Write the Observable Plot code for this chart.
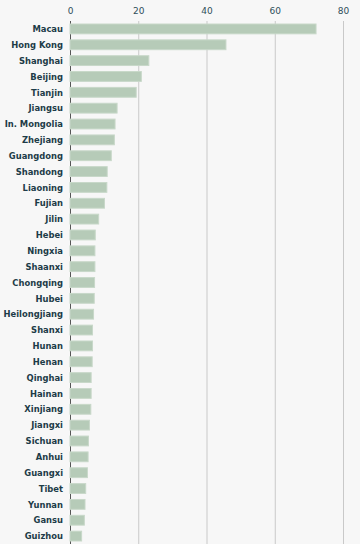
<!DOCTYPE html>
<html>
<head>
<meta charset="utf-8">
<script src="https://cdn.jsdelivr.net/npm/d3@7"></script>
<script src="https://cdn.jsdelivr.net/npm/@observablehq/plot@0.6"></script>
<style>
  html, body { margin: 0; padding: 0; background: #f7f7f7; }
  #chart svg { display: block; background: #f7f7f7; }
</style>
</head>
<body>
<div id="chart"></div>
<script>
const regions = ["Macau","Hong Kong","Shanghai","Beijing","Tianjin","Jiangsu","In. Mongolia","Zhejiang","Guangdong","Shandong","Liaoning","Fujian","Jilin","Hebei","Ningxia","Shaanxi","Chongqing","Hubei","Heilongjiang","Shanxi","Hunan","Henan","Qinghai","Hainan","Xinjiang","Jiangxi","Sichuan","Anhui","Guangxi","Tibet","Yunnan","Gansu","Guizhou"];
const values = [72.1,45.7,23.1,20.9,19.4,13.8,13.2,13.0,12.1,10.9,10.8,10.1,8.4,7.4,7.3,7.3,7.2,7.1,6.9,6.6,6.6,6.5,6.2,6.2,6.1,5.7,5.4,5.3,5.1,4.6,4.4,4.2,3.4];
const xTicks = [0,20,40,60,80];

const data = regions.map((r, i) => ({region: r, value: values[i]}));

const chart = Plot.plot({
  width: 360,
  height: 544,
  marginLeft: 70,
  marginRight: 17,
  marginTop: 21,
  marginBottom: 0,
  style: {background: "#f7f7f7", fontFamily: "DejaVu Sans, Verdana, sans-serif"},
  x: {domain: [0, 80], ticks: xTicks, axis: null},
  y: {domain: regions, paddingInner: 0.38, paddingOuter: 0.19, round: false, axis: null},
  marks: [
    Plot.ruleX(xTicks.filter(d => d > 0), {stroke: "#c9c9c9", strokeWidth: 1}),
    Plot.ruleX([0], {stroke: "#555", strokeWidth: 1}),
    Plot.barX(data, {x: "value", y: "region", fill: "#b6cbb8", stroke: "#c8d8c9", strokeWidth: 1}),
    Plot.axisX({anchor: "top", ticks: xTicks, tickSize: 0, tickPadding: 8, fontSize: 9, fill: "#2f4f5a", label: null}),
    Plot.axisY({anchor: "left", tickSize: 0, tickPadding: 7.5, fontSize: 8.4, fontWeight: "bold", fill: "#1d3c48", label: null})
  ]
});
document.getElementById("chart").appendChild(chart);
</script>
</body>
</html>
